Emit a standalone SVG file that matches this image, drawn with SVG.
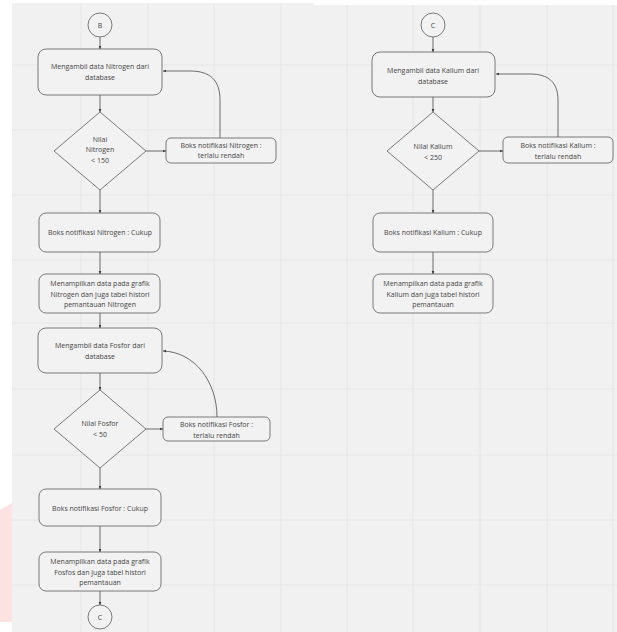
<svg xmlns="http://www.w3.org/2000/svg" width="617" height="632" viewBox="0 0 617 632">
<defs>
<style>
.bg{fill:#f1f1f1}
.grid line{stroke:#e6e6e6;stroke-width:1}
.node rect,.node path,.node circle{fill:#f2f2f2;stroke:#5a5a5a;stroke-width:0.8}
.node text{font-family:"Open Sans","Liberation Sans",sans-serif;font-size:7px;fill:#444444;text-anchor:middle}
.conn path{fill:none;stroke:#4a4a4a;stroke-width:0.8}
</style>
<marker id="ah" viewBox="0 0 6 6" refX="5.5" refY="3" markerWidth="4" markerHeight="4" orient="auto">
<path d="M0,0.5 L6,3 L0,5.5 Z" fill="#3a3a3a"/>
</marker>
</defs>
<rect x="0" y="0" width="617" height="632" fill="#ffffff"/>
<rect class="bg" x="12" y="3" width="302" height="629"/>
<rect class="bg" x="314" y="5" width="303" height="627"/>
<polygon points="0,510 12,503 12,622 0,622" fill="#fde2e2"/>
<g class="grid">
<line x1="81" y1="3" x2="81" y2="632"/>
<line x1="148" y1="3" x2="148" y2="632"/>
<line x1="214" y1="3" x2="214" y2="632"/>
<line x1="281" y1="3" x2="281" y2="632"/>
<line x1="347" y1="5" x2="347" y2="632"/>
<line x1="413" y1="5" x2="413" y2="632"/>
<line x1="480" y1="5" x2="480" y2="632"/>
<line x1="547" y1="5" x2="547" y2="632"/>
<line x1="613" y1="5" x2="613" y2="632"/>
<line x1="12" y1="65" x2="617" y2="65"/>
<line x1="12" y1="130" x2="617" y2="130"/>
<line x1="12" y1="195" x2="617" y2="195"/>
<line x1="12" y1="260" x2="617" y2="260"/>
<line x1="12" y1="323" x2="617" y2="323"/>
<line x1="12" y1="389" x2="617" y2="389"/>
<line x1="12" y1="455" x2="617" y2="455"/>
<line x1="12" y1="520" x2="617" y2="520"/>
<line x1="12" y1="585" x2="617" y2="585"/>
</g>
<g class="conn">
<path d="M100,37 L100,49" marker-end="url(#ah)"/>
<path d="M100,95 L100,112" marker-end="url(#ah)"/>
<path d="M100,190 L100,213" marker-end="url(#ah)"/>
<path d="M100,252 L100,274" marker-end="url(#ah)"/>
<path d="M100,313 L100,328" marker-end="url(#ah)"/>
<path d="M100,373 L100,390" marker-end="url(#ah)"/>
<path d="M100,468 L100,489" marker-end="url(#ah)"/>
<path d="M100,526 L100,552" marker-end="url(#ah)"/>
<path d="M100,591 L100,605" marker-end="url(#ah)"/>
<path d="M146,151 L166,151" marker-end="url(#ah)"/>
<path d="M146,429 L163,429" marker-end="url(#ah)"/>
<path d="M220,138 L220,100 C220,80 210,71 190,71 L163,71" marker-end="url(#ah)"/>
<path d="M217,417 C217,382 195,352 163,351" marker-end="url(#ah)"/>
<path d="M433,37 L433,52" marker-end="url(#ah)"/>
<path d="M433,97 L433,112" marker-end="url(#ah)"/>
<path d="M433,190 L433,213" marker-end="url(#ah)"/>
<path d="M433,252 L433,274" marker-end="url(#ah)"/>
<path d="M479,151 L503,151" marker-end="url(#ah)"/>
<path d="M558,137 L558,100 C558,82 548,74 530,74 L496,74" marker-end="url(#ah)"/>
</g>
<g id="startB" class="node"><circle cx="100" cy="25" r="12"/><text x="100" y="27.5">B</text></g>
<g id="ambilN" class="node"><rect x="38" y="49" width="124" height="46" rx="8"/><text x="100" y="69">Mengambil data Nitrogen dari</text><text x="100" y="80">database</text></g>
<g id="cekN" class="node"><path d="M100,112 L146,151 L100,190 L54,151 Z"/><text x="100" y="142">Nilai</text><text x="100" y="152">Nitrogen</text><text x="100" y="163">&lt; 150</text></g>
<g id="rendahN" class="node"><rect x="166" y="138" width="110" height="25" rx="5"/><text x="221" y="148">Boks notifikasi Nitrogen :</text><text x="221" y="158">terlalu rendah</text></g>
<g id="cukupN" class="node"><rect x="39" y="213" width="121" height="39" rx="7"/><text x="100" y="235">Boks notifikasi Nitrogen : Cukup</text></g>
<g id="tampilN" class="node"><rect x="39" y="274" width="121" height="39" rx="7"/><text x="100" y="286">Menampilkan data pada grafik</text><text x="100" y="296.5">Nitrogen dan juga tabel histori</text><text x="100" y="307">pemantauan Nitrogen</text></g>
<g id="ambilF" class="node"><rect x="38" y="328" width="124" height="45" rx="8"/><text x="100" y="348">Mengambil data Fosfor dari</text><text x="100" y="359">database</text></g>
<g id="cekF" class="node"><path d="M100,390 L146,429 L100,468 L54,429 Z"/><text x="100" y="426">Nilai Fosfor</text><text x="100" y="436.5">&lt; 50</text></g>
<g id="rendahF" class="node"><rect x="163" y="417" width="107" height="24" rx="5"/><text x="216.5" y="427">Boks notifikasi Fosfor :</text><text x="216.5" y="437.5">terlalu rendah</text></g>
<g id="cukupF" class="node"><rect x="39" y="489" width="122" height="37" rx="7"/><text x="100" y="511">Boks notifikasi Fosfor : Cukup</text></g>
<g id="tampilF" class="node"><rect x="39" y="552" width="122" height="39" rx="7"/><text x="100" y="564">Menampilkan data pada grafik</text><text x="100" y="574.5">Fosfos dan juga tabel histori</text><text x="100" y="585">pemantauan</text></g>
<g id="endC" class="node"><circle cx="100" cy="617" r="12"/><text x="100" y="619.5">C</text></g>
<g id="startC" class="node"><circle cx="433" cy="25" r="12"/><text x="433" y="27.5">C</text></g>
<g id="ambilK" class="node"><rect x="372" y="52" width="123" height="45" rx="8"/><text x="433" y="73">Mengambil data Kalium dari</text><text x="433" y="84">database</text></g>
<g id="cekK" class="node"><path d="M433,112 L479,151 L433,190 L387,151 Z"/><text x="433" y="149">Nilai Kalium</text><text x="433" y="159.5">&lt; 250</text></g>
<g id="rendahK" class="node"><rect x="503" y="137" width="110" height="26" rx="5"/><text x="558" y="148">Boks notifikasi Kalium :</text><text x="558" y="158.5">terlalu rendah</text></g>
<g id="cukupK" class="node"><rect x="373" y="213" width="120" height="39" rx="7"/><text x="433" y="235">Boks notifikasi Kalium : Cukup</text></g>
<g id="tampilK" class="node"><rect x="373" y="274" width="120" height="39" rx="7"/><text x="433" y="286">Menampilkan data pada grafik</text><text x="433" y="296.5">Kalium dan juga tabel histori</text><text x="433" y="307">pemantauan</text></g>
</svg>
